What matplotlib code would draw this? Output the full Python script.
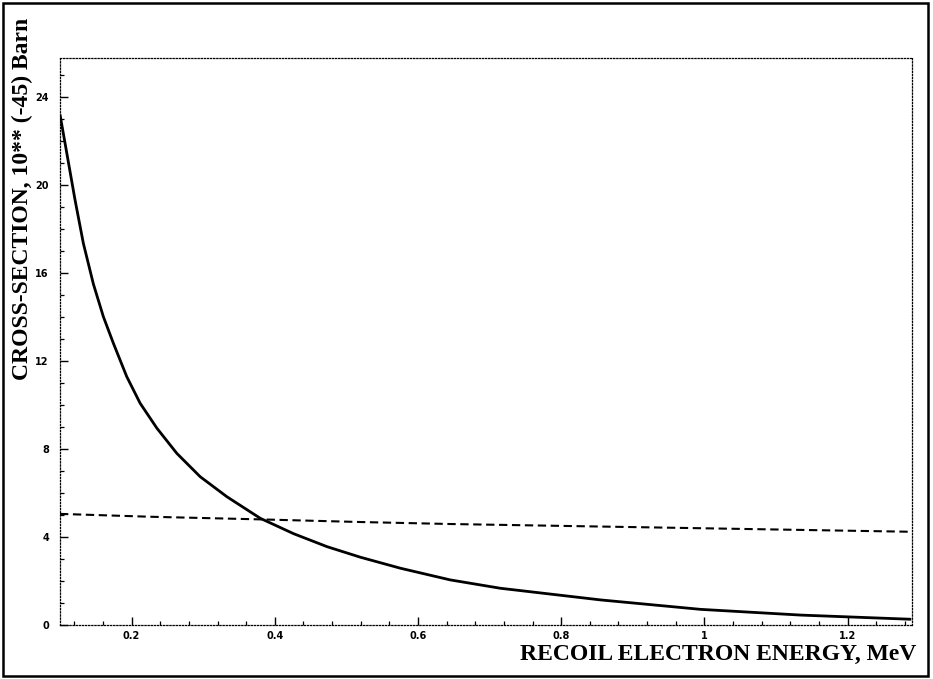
import matplotlib
matplotlib.use("Agg")
import matplotlib.pyplot as plt
from matplotlib.patches import Rectangle
from matplotlib.ticker import MultipleLocator

# Solid curve: cross-section vs recoil electron energy
energy_solid = [0.100, 0.121, 0.1326, 0.1466, 0.1606, 0.1746, 0.1932, 0.2119, 0.2352,
                0.2632, 0.2958, 0.3331, 0.3797, 0.4263, 0.473, 0.5196, 0.5755, 0.645,
                0.715, 0.855, 0.995, 1.135, 1.289]
sigma_solid = [23.2, 19.32, 17.35, 15.5, 14.01, 12.8, 11.29, 10.08, 8.95,
               7.80, 6.74, 5.83, 4.85, 4.15, 3.56, 3.08, 2.58, 2.05,
               1.67, 1.14, 0.71, 0.45, 0.26]

# Dashed curve
energy_dashed = [0.100, 0.226, 0.380, 0.520, 0.645, 1.284]
sigma_dashed = [5.05, 4.92, 4.80, 4.68, 4.59, 4.24]

x_ticks = [0.2, 0.4, 0.6, 0.8, 1.0, 1.2]
x_tick_labels = ["0.2", "0.4", "0.6", "0.8", "1", "1.2"]
y_ticks = [0, 4, 8, 12, 16, 20, 24]
y_tick_labels = ["0", "4", "8", "12", "16", "20", "24"]

W, H = 933, 679
fig = plt.figure(figsize=(W / 100, H / 100), dpi=100)
ax = fig.add_axes([60 / W, (H - 625) / H, (912 - 60) / W, (625 - 58) / H])

ax.plot(energy_solid, sigma_solid, color="black", lw=2.0,
        solid_joinstyle="round", solid_capstyle="butt")
ax.plot(energy_dashed, sigma_dashed, color="black", lw=1.5, linestyle=(0, (4, 2.2)))

ax.set_xlim(0.1, 1.29)
ax.set_ylim(0, 25.77)

ax.set_xticks(x_ticks)
ax.set_xticklabels(x_tick_labels)
ax.set_yticks(y_ticks)
ax.set_yticklabels(y_tick_labels)
ax.xaxis.set_minor_locator(MultipleLocator(0.04))
ax.yaxis.set_minor_locator(MultipleLocator(1))

ax.tick_params(which="both", direction="in", color="black")
ax.tick_params(which="major", length=6, width=1.0)
ax.tick_params(which="minor", length=3, width=0.9)
ax.tick_params(axis="x", pad=4)
ax.tick_params(axis="y", pad=8)
for lab in ax.get_xticklabels() + ax.get_yticklabels():
    lab.set_fontfamily("DejaVu Sans")
    lab.set_fontweight("bold")
    lab.set_fontsize(7)

for sp in ax.spines.values():
    sp.set_linestyle((0, (1, 1.5)))
    sp.set_linewidth(0.9)
    sp.set_color("black")

fig.text(916 / W, (H - 654) / H, "RECOIL ELECTRON ENERGY, MeV", ha="right", va="center",
         fontfamily="Liberation Serif", fontweight="bold", fontsize=17)
fig.text(22 / W, (H - 199) / H, "CROSS-SECTION, 10** (-45) Barn", ha="center", va="center",
         rotation=90, fontfamily="Liberation Serif", fontweight="bold", fontsize=17)

# outer frame
fig.patches.append(Rectangle((3 / W, 3 / H), (928 - 3) / W, (676 - 3) / H,
                             transform=fig.transFigure, fill=False,
                             edgecolor="black", lw=1.8))

fig.savefig("out.png", dpi=100)
